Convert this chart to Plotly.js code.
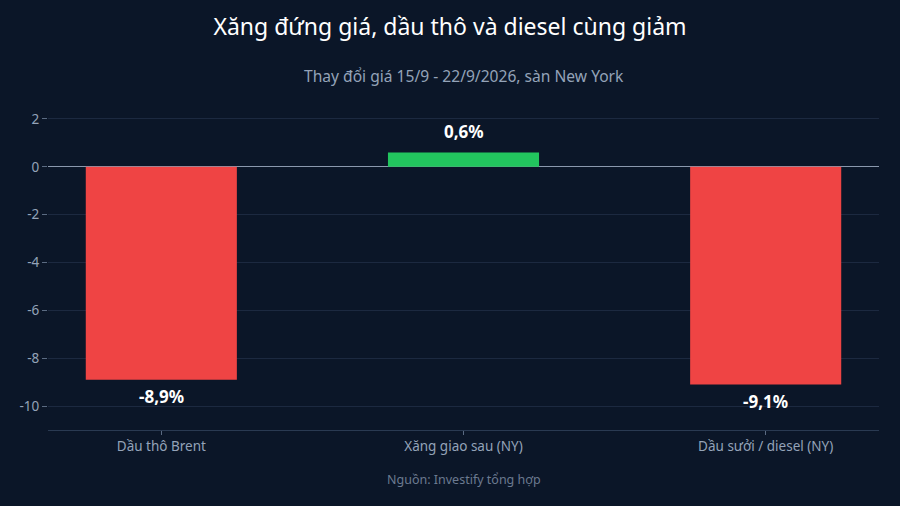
<!DOCTYPE html>
<html>
<head>
<meta charset="utf-8">
<script src="https://cdn.plot.ly/plotly-3.0.1.min.js"></script>
<style>
  html, body { margin: 0; padding: 0; background: #0b1628; }
  #chart { width: 900px; height: 506px; }
</style>
</head>
<body>
<div id="chart"></div>
<script>
const categories = ["Dầu thô Brent", "Xăng giao sau (NY)", "Dầu sưởi / diesel (NY)"];
const changes = [-8.9, 0.6, -9.1];
const yTickValues = [-10, -8, -6, -4, -2, 0, 2];
const yTickLabels = ["-10", "-8", "-6", "-4", "-2", "0", "2"];

const RED = "#ef4444";
const GREEN = "#22c55e";
const MUTED = "#94a3b8";

function formatPercent(v) {
	return v.toFixed(1).replace(".", ",") + "%";
}

// labels sit a bit further off the bar ends than plotly's own outside text
let valueLabels = changes.map((v, i) => ({
	text: "<b>" + formatPercent(v) + "</b>",
	x: categories[i],
	y: v,
	xref: "x", yref: "y",
	yanchor: v < 0 ? "top" : "bottom",
	yshift: v < 0 ? -3 : 7,
	showarrow: false,
	font: { family: "Noto Sans", size: 17, color: "#ffffff" }
}));

let data = [{
	x: categories,
	y: changes,
	type: "bar",
	width: 0.5,
	marker: { color: changes.map(v => v < 0 ? RED : GREEN) },
	hoverinfo: "skip"
}];

let layout = {
	width: 900,
	height: 506,
	paper_bgcolor: "#0b1628",
	plot_bgcolor: "#0b1628",
	font: { family: "Noto Sans", color: MUTED },
	margin: { l: 48, r: 21, t: 107, b: 76 },
	showlegend: false,
	title: {
		text: "Xăng đứng giá, dầu thô và diesel cùng giảm",
		font: { family: "Noto Sans", size: 23, color: "#ffffff" },
		x: 0.5,
		xanchor: "center",
		yref: "container",
		y: 1 - 27 / 506,
		yanchor: "middle"
	},
	xaxis: {
		range: [-0.375, 2.375],
		showgrid: false,
		showline: true,
		linecolor: "#2a3a52",
		linewidth: 1,
		ticks: "outside",
		ticklen: 4,
		tickcolor: "#5b6b82",
		tickfont: { family: "Noto Sans", size: 13.5, color: MUTED },
		zeroline: false,
		fixedrange: true
	},
	yaxis: {
		range: [-11, 2.5],
		tickvals: yTickValues,
		ticktext: yTickLabels,
		ticks: "outside",
		ticklen: 5,
		tickcolor: "#5b6b82",
		tickfont: { family: "Noto Sans", size: 13.5, color: MUTED },
		showgrid: true,
		gridcolor: "#1c2940",
		gridwidth: 1,
		zeroline: true,
		zerolinecolor: "#8a98ad",
		zerolinewidth: 1,
		showline: false,
		fixedrange: true
	},
	annotations: valueLabels.concat([
		{
			text: "Thay đổi giá 15/9 - 22/9/2026, sàn New York",
			xref: "paper", yref: "paper",
			x: 0.5, y: (430 - 76) / 323,
			xanchor: "center", yanchor: "middle",
			showarrow: false,
			font: { family: "Noto Sans", size: 15.6, color: MUTED }
		},
		{
			text: "Nguồn: Investify tổng hợp",
			xref: "paper", yref: "paper",
			x: 0.5, y: (430 - 479) / 323,
			xanchor: "center", yanchor: "middle",
			showarrow: false,
			font: { family: "Noto Sans", size: 12.5, color: "#6b7a90" }
		}
	])
};

Plotly.newPlot("chart", data, layout, { displayModeBar: false, staticPlot: true });
</script>
</body>
</html>
